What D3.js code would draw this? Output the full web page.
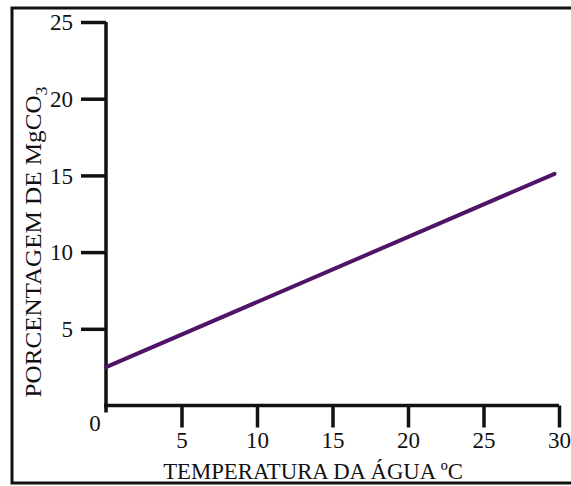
<!DOCTYPE html>
<html><head><meta charset="utf-8">
<script src="https://cdn.jsdelivr.net/npm/d3@7"></script>
<style>body{margin:0;background:#fff}svg{display:block}text{font-family:"Liberation Serif","Times New Roman",serif;fill:#111}</style>
</head><body>
<script>
const xTicks = [5, 10, 15, 20, 25, 30];
const yTicks = [5, 10, 15, 20, 25];
const tempC = [0, 29.7];
const pctMgCO3 = [2.5, 15.1];
const xTitle = "TEMPERATURA DA ÁGUA ºC";
const yTitle = "PORCENTAGEM DE MgCO";

const W = 571, H = 486;
const svg = d3.select("body").append("svg").attr("width", W).attr("height", H);

// frame
svg.append("rect").attr("x", 12).attr("y", 8).attr("width", W + 10).attr("height", 475)
  .attr("fill", "none").attr("stroke", "#111").attr("stroke-width", 3);

const x = d3.scaleLinear().domain([0, 30]).range([106, 559]);
const y = d3.scaleLinear().domain([0, 25]).range([405.5, 22]);

// y axis
const gy = svg.append("g").attr("transform", "translate(106,0)")
  .call(d3.axisLeft(y).tickValues(yTicks).tickSize(25).tickPadding(8).tickSizeOuter(0));
gy.attr("font-family", null).attr("font-size", null);
gy.select(".domain").attr("stroke", "#111").attr("stroke-width", 3.5).attr("d", `M0,${y(25)}V${y(0)+2}`);
gy.selectAll(".tick line").attr("stroke", "#111").attr("stroke-width", 3.5);
gy.selectAll(".tick text").attr("font-size", 23).attr("fill", "#111").attr("dy", "0.34em");

// x axis
const gx = svg.append("g").attr("transform", "translate(0,405.5)")
  .call(d3.axisBottom(x).tickValues(xTicks).tickSize(22).tickPadding(4).tickSizeOuter(0));
gx.attr("font-family", null).attr("font-size", null);
gx.select(".domain").attr("stroke", "#111").attr("stroke-width", 3.5).attr("d", `M${x(0)-2},0H${x(30)}`);
gx.selectAll(".tick line").attr("stroke", "#111").attr("stroke-width", 3.5);
gx.selectAll(".tick text").attr("font-size", 23).attr("fill", "#111");

// zero tick
svg.append("line").attr("x1", x(0)).attr("x2", x(0)).attr("y1", y(0)).attr("y2", y(0) + 7)
  .attr("stroke", "#111").attr("stroke-width", 3.5);
svg.append("text").attr("x", x(0) - 11).attr("y", y(0) + 25).attr("text-anchor", "middle")
  .attr("font-size", 23).text("0");

// line
svg.append("path").datum(d3.zip(tempC, pctMgCO3))
  .attr("d", d3.line().x(d => x(d[0])).y(d => y(d[1])))
  .attr("fill", "none").attr("stroke", "#4f1466").attr("stroke-width", 4).attr("stroke-linecap", "round");

// titles
const xt = svg.append("text").attr("text-anchor", "middle").attr("font-size", 24).text(xTitle);
const xw = xt.node().getComputedTextLength();
xt.attr("transform", `translate(313,479) scale(${300 / xw},1)`);

const yt = svg.append("text").attr("text-anchor", "middle").attr("font-size", 24);
yt.append("tspan").text(yTitle);
yt.append("tspan").attr("dy", 6).attr("font-size", 17).text("3");
const yw = yt.node().getBBox().width;
yt.attr("transform", `translate(41,242) rotate(-90) scale(${311 / yw},1)`);
</script>
</body></html>
